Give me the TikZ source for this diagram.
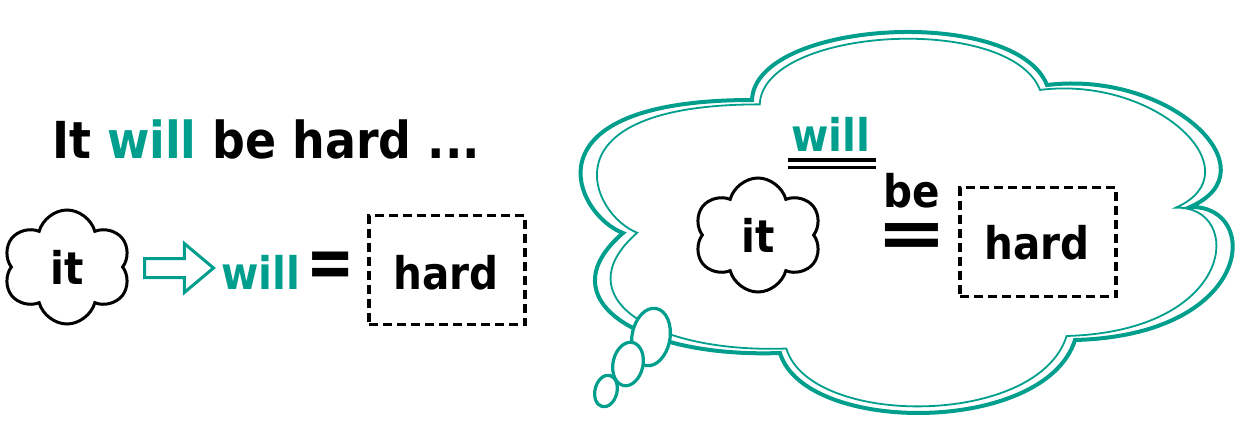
\documentclass[tikz,border=0pt]{standalone}
\usepackage{fontspec}
\setmainfont{DejaVu Sans Condensed}
\usetikzlibrary{arrows.meta,calc,positioning,shapes.symbols,shapes.arrows}
\definecolor{verdemar}{RGB}{0,158,140}
\tikzset{
  titulo/.style={
    anchor=base west,
    inner sep=0pt,
    font=\fontsize{51}{60}\selectfont\bfseries
  },
  palabra/.style={
    anchor=base,
    inner sep=0pt,
    font=\fontsize{45}{54}\selectfont\bfseries
  },
  nube/.style={
    shape=cloud,
    cloud puffs=6,
    cloud ignores aspect,
    shape border rotate=90,
    draw=black,
    line width=3pt,
    minimum width=128pt,
    minimum height=114pt,
    inner sep=0pt,
    font=\fontsize{45}{54}\selectfont\bfseries
  },
  caja/.style={
    draw=black,
    line width=3.2pt,
    dash pattern=on 9pt off 5pt,
    minimum width=156pt,
    minimum height=109pt,
    inner sep=0pt
  },
  flecha/.style={
    single arrow,
    draw=verdemar,
    line width=3pt,
    minimum width=46pt,
    minimum height=69pt,
    single arrow head extend=15pt,
    single arrow tip angle=80,
    inner xsep=0pt,
    inner ysep=8pt
  },
  igual/.style={
    inner sep=0pt,
    transform shape,
    font=\fontsize{64}{70}\selectfont\bfseries
  },
  globo/.style={draw=verdemar, line width=4pt},
  globofino/.style={draw=verdemar, line width=1.8pt},
  burbuja/.style={draw=verdemar, line width=3.2pt, fill=white},
  subraya/.style={draw=black, line width=3.5pt}
}
\newcommand{\nubegrande}{(623,233) .. controls (575,215) and (520,100) .. (752,100)
  .. controls (755,20) and (1015,5) .. (1047,85)
  .. controls (1170,70) and (1275,170) .. (1190,207)
  .. controls (1262,205) and (1255,335) .. (1075,340)
  .. controls (1045,435) and (805,435) .. (780,353)
  .. controls (640,358) and (545,300) .. (623,233) -- cycle}
\begin{document}
\begin{tikzpicture}[x=1pt, y=-1pt]
\useasboundingbox (0,0) rectangle (1240,440);
% frase
\node[titulo] (tit) at (52,158) {It \textcolor{verdemar}{will} be hard ...};
% fila de la izquierda
\node[nube] (it1) at (67,267) {it};
\node[flecha, anchor=tail] (fl) at (143,268) {};
\node[palabra, text=verdemar] (w1) at (261,289) {will};
\node[igual, yscale=1.15] (eq1) at (331,270) {=};
\node[caja] (c1) at (447,270) {};
\node[palabra] (h1) at (446,289) {hard};
% nube grande
\draw[globo] \nubegrande;
\begin{scope}[shift={(907,225)}, xscale=.95, yscale=.965, shift={(-907,-225)}]
\draw[globofino] \nubegrande;
\end{scope}
\draw[burbuja] (651,337) ellipse [x radius=19, y radius=29, rotate=-10];
\draw[burbuja] (628,364) ellipse [x radius=15, y radius=22, rotate=-12];
\draw[burbuja] (606,391) ellipse [x radius=11, y radius=16, rotate=-14];
% dentro de la nube
\node[nube] (it2) at (758,235) {it};
\node[palabra, text=verdemar] (w2) at (831,151) {will};
\draw[subraya] ([xshift=-3pt,yshift=-9pt]w2.base west) -- ([xshift=5pt,yshift=-9pt]w2.base east);
\draw[subraya] ([xshift=-3pt,yshift=-16.5pt]w2.base west) -- ([xshift=5pt,yshift=-16.5pt]w2.base east);
\node[palabra] (be) at (912,207) {be};
\node[igual, yscale=.75, font=\fontsize{94}{100}\selectfont\bfseries] (eq2) at (912,241) {=};
\node[caja] (c2) at (1038,242) {};
\node[palabra] (h2) at (1037,259) {hard};
\end{tikzpicture}
\end{document}
